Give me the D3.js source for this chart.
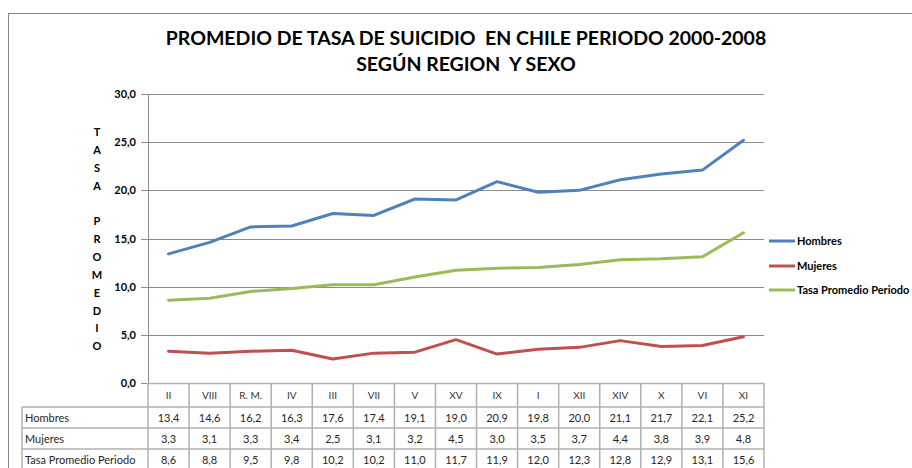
<!DOCTYPE html>
<html><head><meta charset="utf-8">
<script src="https://cdn.jsdelivr.net/npm/d3@7"></script>
<style>body{margin:0;background:#fff;}svg{display:block;font-family:Lato,"Open Sans",sans-serif;}text{white-space:pre;}</style>
</head><body><svg id="c" width="912" height="468"></svg>
<script>
const categories = ["II","VIII","R. M.","IV","III","VII","V","XV","IX","I","XII","XIV","X","VI","XI"];
const hombres = [13.4,14.6,16.2,16.3,17.6,17.4,19.1,19.0,20.9,19.8,20.0,21.1,21.7,22.1,25.2];
const mujeres = [3.3,3.1,3.3,3.4,2.5,3.1,3.2,4.5,3.0,3.5,3.7,4.4,3.8,3.9,4.8];
const tasa = [8.6,8.8,9.5,9.8,10.2,10.2,11.0,11.7,11.9,12.0,12.3,12.8,12.9,13.1,15.6];
const seriesNames = ["Hombres","Mujeres","Tasa Promedio Periodo"];
const yTicks = [0,5,10,15,20,25,30];
const titleLines = ["PROMEDIO DE TASA DE SUICIDIO  EN CHILE PERIODO 2000-2008","SEGÚN REGION  Y SEXO"];
const yAxisTitle = ["T","A","S","A","","P","R","O","M","E","D","I","O"];

const colors = ["#4F81BD","#C0504D","#9BBB59"];
const series = [hombres, mujeres, tasa];
const svg = d3.select("#c");
const fmt = v => d3.format(".1f")(v).replace(".", ",");

// outer border
svg.append("rect").attr("x",8.5).attr("y",13.5).attr("width",1000).attr("height",1000)
  .attr("fill","none").attr("stroke","#868686").attr("stroke-width",1);

const L=148, R=764, T=94, B=383;
const x = d3.scaleBand().domain(categories).range([L,R]);
const y = d3.scaleLinear().domain([0,30]).range([B,T]);

// title
svg.append("g").selectAll("text").data(titleLines).join("text")
  .attr("x",466).attr("y",(d,i)=>45+i*26).attr("text-anchor","middle")
  .attr("font-size",19.5).attr("font-weight","bold").attr("fill","#000").text(d=>d);

// gridlines
svg.append("g").selectAll("line").data(yTicks).join("line")
  .attr("x1",L-7).attr("x2",R).attr("y1",d=>Math.round(y(d))+0.5).attr("y2",d=>Math.round(y(d))+0.5)
  .attr("stroke","#8c8c8c").attr("stroke-width",1);
// y axis line
svg.append("line").attr("x1",L+0.5).attr("x2",L+0.5).attr("y1",T).attr("y2",B)
  .attr("stroke","#8c8c8c");
// tick labels
svg.append("g").selectAll("text").data(yTicks).join("text")
  .attr("x",L-12).attr("y",d=>y(d)+4).attr("text-anchor","end")
  .attr("font-size",11).attr("font-weight","bold").attr("fill","#000").text(d=>fmt(d));

// y axis title
svg.append("g").selectAll("text").data(yAxisTitle).join("text")
  .attr("x",97).attr("y",(d,i)=>132+i*17.86+4).attr("text-anchor","middle")
  .attr("font-size",11).attr("font-weight","bold").attr("fill","#000").text(d=>d);

// lines
const line = d3.line().x((d,i)=>x(categories[i])+x.bandwidth()/2).y(d=>y(d));
series.forEach((s,k)=>{
  svg.append("path").datum(s).attr("d",line).attr("fill","none")
    .attr("stroke",colors[k]).attr("stroke-width",3).attr("stroke-linejoin","round").attr("stroke-linecap","round");
});

// legend
const legY = [241,266,290];
seriesNames.forEach((n,k)=>{
  svg.append("line").attr("x1",769).attr("x2",795).attr("y1",legY[k]).attr("y2",legY[k])
    .attr("stroke",colors[k]).attr("stroke-width",3);
  svg.append("text").attr("x",797).attr("y",legY[k]+4).attr("font-size",11).attr("font-weight","bold")
    .attr("fill","#000").text(n);
});

// data table
const tg = svg.append("g");
const gridC = "#b0b0b0";
tg.append("line").attr("x1",L).attr("x2",R).attr("y1",B+0.5).attr("y2",B+0.5).attr("stroke",gridC).attr("stroke-width",1.5);
[407,428,449,470].forEach(yy=>{
  tg.append("line").attr("x1",22).attr("x2",R).attr("y1",yy).attr("y2",yy).attr("stroke",gridC).attr("stroke-width",1.5);
});
const bounds = categories.map(c=>x(c)).concat([R]);
bounds.forEach(bx=>{
  tg.append("line").attr("x1",bx).attr("x2",bx).attr("y1",B).attr("y2",470).attr("stroke",gridC).attr("stroke-width",1.5);
});
tg.append("line").attr("x1",22).attr("x2",22).attr("y1",407).attr("y2",470).attr("stroke",gridC).attr("stroke-width",1.5);
tg.selectAll("text.h").data(categories).join("text").attr("class","h")
  .attr("x",d=>x(d)+x.bandwidth()/2).attr("y",399).attr("text-anchor","middle")
  .attr("font-size",10).attr("fill","#333").text(d=>d);
const rowCenters=[418,439,460];
seriesNames.forEach((n,k)=>{
  tg.append("text").attr("x",25).attr("y",rowCenters[k]+4).attr("font-size",11).attr("fill","#262626").text(n);
  tg.append("g").selectAll("text").data(series[k]).join("text")
    .attr("x",(d,i)=>x(categories[i])+x.bandwidth()/2).attr("y",rowCenters[k]+4)
    .attr("text-anchor","middle").attr("font-size",11).attr("fill","#262626").text(d=>fmt(d));
});
</script></body></html>
